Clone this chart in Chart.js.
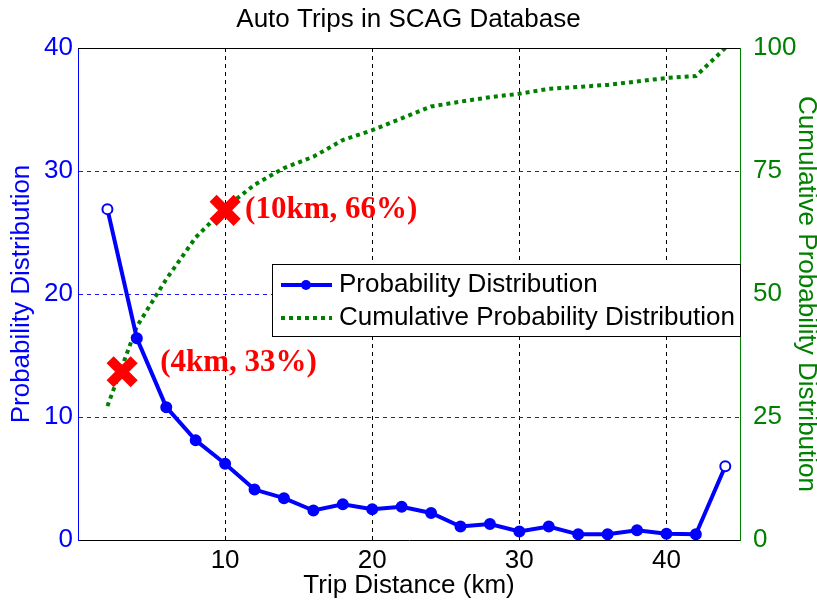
<!DOCTYPE html>
<html>
<head>
<meta charset="utf-8">
<script src="https://cdn.jsdelivr.net/npm/chart.js@4.4.0/dist/chart.umd.min.js"></script>
<style>
  html, body { margin: 0; padding: 0; background: #fff; }
</style>
</head>
<body>
<canvas id="chart" width="817" height="602"></canvas>
<script>
// trip distance (km) of each bin
const distances = [2, 4, 6, 8, 10, 12, 14, 16, 18, 20, 22, 24, 26, 28, 30, 32, 34, 36, 38, 40, 42, 44];
// probability distribution (%), left axis
const probability = [26.9, 16.4, 10.8, 8.1, 6.2, 4.1, 3.4, 2.4, 2.9, 2.5, 2.7, 2.2, 1.1, 1.3, 0.7, 1.1, 0.46, 0.46, 0.8, 0.5, 0.46, 6.0];
// cumulative probability distribution (%), right axis
const cumulative = [27.2, 43.4, 53, 61.5, 67.5, 72.2, 75.6, 77.9, 81.3, 83.3, 85.7, 88.1, 89.1, 90.0, 90.7, 91.7, 92.1, 92.5, 93.2, 93.9, 94.3, 100];

const xTicks = [10, 20, 30, 40];
const leftTicks = [0, 10, 20, 30, 40];
const rightTicks = [0, 25, 50, 75, 100];

// red cross markers (x km, right-axis %)
const markX = [3, 10];
const markY = [34.2, 67];
const markLabels = ["(4km, 33%)", "(10km, 66%)"];

const sans = "'Liberation Sans', Arial, sans-serif";
const blue = "#0000ff";
const green = "#008000";

const hollow = distances.map((_, i) => (i === 0 || i === distances.length - 1) ? "#ffffff" : blue);

const extras = {
  id: "extras",
  afterDraw(chart) {
    const ctx = chart.ctx;
    const a = chart.chartArea;
    ctx.save();
    // top frame line
    ctx.strokeStyle = "#000";
    ctx.lineWidth = 1;
    ctx.beginPath();
    ctx.moveTo(a.left, Math.round(a.top) + 0.5);
    ctx.lineTo(a.right, Math.round(a.top) + 0.5);
    ctx.stroke();

    // annotation labels next to the red crosses
    const meta = chart.getDatasetMeta(2);
    const offs = [[38, -9], [20, 0]];
    ctx.font = "bold 31px 'Liberation Serif', 'Times New Roman', serif";
    ctx.fillStyle = "#ff0000";
    ctx.textBaseline = "middle";
    meta.data.forEach((pt, i) => {
      ctx.fillText(markLabels[i], pt.x + offs[i][0], pt.y + offs[i][1]);
    });

    // legend box
    const lx = 272, ly = 264, lw = 468, lh = 72;
    ctx.fillStyle = "#fff";
    ctx.fillRect(lx, ly, lw, lh);
    ctx.strokeStyle = "#000";
    ctx.lineWidth = 1;
    ctx.strokeRect(lx + 0.5, ly + 0.5, lw, lh);

    ctx.strokeStyle = blue;
    ctx.lineWidth = 4;
    ctx.beginPath();
    ctx.moveTo(281, 285);
    ctx.lineTo(332, 285);
    ctx.stroke();
    ctx.fillStyle = blue;
    ctx.beginPath();
    ctx.arc(306, 285, 5, 0, Math.PI * 2);
    ctx.fill();

    ctx.strokeStyle = green;
    ctx.setLineDash([4, 4]);
    ctx.beginPath();
    ctx.moveTo(281, 318);
    ctx.lineTo(332, 318);
    ctx.stroke();
    ctx.setLineDash([]);

    ctx.font = "26px " + sans;
    ctx.fillStyle = "#000";
    ctx.textBaseline = "middle";
    ctx.fillText("Probability Distribution", 339, 285);
    ctx.fillText("Cumulative Probability Distribution", 339, 318);
    ctx.restore();
  }
};

new Chart(document.getElementById("chart"), {
  type: "line",
  data: {
    datasets: [
      {
        label: "Probability Distribution",
        data: distances.map((d, i) => ({ x: d, y: probability[i] })),
        yAxisID: "y",
        borderColor: blue,
        borderWidth: 4,
        pointRadius: 5,
        pointBackgroundColor: hollow,
        pointBorderColor: blue,
        pointBorderWidth: 2,
        tension: 0,
        order: 1
      },
      {
        label: "Cumulative Probability Distribution",
        data: distances.map((d, i) => ({ x: d, y: cumulative[i] })),
        yAxisID: "y2",
        borderColor: green,
        borderWidth: 4,
        borderDash: [4, 4],
        pointRadius: 0,
        tension: 0,
        order: 2
      },
      {
        label: "marks",
        data: markX.map((x, i) => ({ x: x, y: markY[i] })),
        yAxisID: "y2",
        showLine: false,
        pointStyle: "crossRot",
        pointRadius: 17,
        pointBorderWidth: 10,
        pointBorderColor: "#ff0000",
        order: 0
      }
    ]
  },
  options: {
    responsive: false,
    animation: false,
    events: [],
    layout: { padding: 0 },
    plugins: {
      legend: { display: false },
      tooltip: { enabled: false },
      title: {
        display: true,
        text: "Auto Trips in SCAG Database",
        color: "#000",
        font: { family: sans, size: 26, weight: "normal", lineHeight: 1.1 },
        padding: { top: 6, bottom: 13.4 }
      }
    },
    scales: {
      x: {
        type: "linear",
        min: 0,
        max: 45,
        afterBuildTicks: s => { s.ticks = xTicks.map(v => ({ value: v })); },
        afterFit: s => { s.height = 62; },
        ticks: { color: "#000", font: { family: sans, size: 26 }, padding: 5 },
        grid: { color: "#000", lineWidth: 1, drawTicks: false },
        border: { color: "#000", width: 1, dash: [4, 4] },
        title: {
          display: true,
          text: "Trip Distance (km)",
          color: "#000",
          font: { family: sans, size: 26, lineHeight: 1.1 },
          padding: { top: 0, bottom: 2 }
        }
      },
      y: {
        position: "left",
        min: 0,
        max: 40,
        afterBuildTicks: s => { s.ticks = leftTicks.map(v => ({ value: v })); },
        afterFit: s => { s.width = 78; },
        ticks: { color: blue, font: { family: sans, size: 26 }, padding: 5 },
        grid: {
          color: c => (c.tick && (c.tick.value === 0 || c.tick.value === 40)) ? "rgba(0,0,0,0)" : "#1a1aff",
          lineWidth: 1,
          drawTicks: false
        },
        border: { color: blue, width: 1, dash: [4, 4] },
        title: {
          display: true,
          text: "Probability Distribution",
          color: blue,
          font: { family: sans, size: 26, lineHeight: 1.1 },
          padding: { top: 8, bottom: 0 }
        }
      },
      y2: {
        position: "right",
        min: 0,
        max: 100,
        afterBuildTicks: s => { s.ticks = rightTicks.map(v => ({ value: v })); },
        afterFit: s => { s.width = 77; },
        ticks: { color: green, font: { family: sans, size: 26 }, padding: 5 },
        grid: { display: false },
        border: { color: green, width: 1 },
        title: {
          display: true,
          text: "Cumulative Probability Distribution",
          color: green,
          font: { family: sans, size: 26, lineHeight: 1.0 },
          padding: { top: -2, bottom: 0 }
        }
      }
    }
  },
  plugins: [extras]
});
</script>
</body>
</html>
